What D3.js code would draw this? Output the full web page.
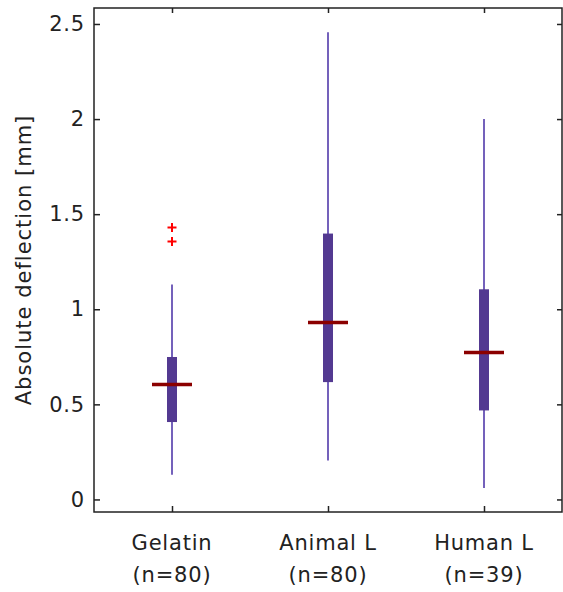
<!DOCTYPE html>
<html>
<head>
<meta charset="utf-8">
<script src="https://cdn.jsdelivr.net/npm/d3@7"></script>
<style>
body { margin: 0; background: #fff; }
text { font-family: "DejaVu Sans", sans-serif; }
</style>
</head>
<body>
<div id="chart"></div>
<script>
const width = 563
const height = 592

// data
const groups = ['Gelatin', 'Animal L', 'Human L']
const counts = ['(n=80)', '(n=80)', '(n=39)']
const whisker_lo = [0.13, 0.205, 0.06]
const q1 = [0.407, 0.617, 0.468]
const medians = [0.605, 0.93, 0.772]
const q3 = [0.749, 1.398, 1.105]
const whisker_hi = [1.13, 2.456, 2.0]
const outlier_group = ['Gelatin', 'Gelatin']
const outlier_vals = [1.43, 1.356]
const y_ticks = [0, 0.5, 1, 1.5, 2, 2.5]

const color_box = '#533991'
const color_whisker = '#7461bb'
const color_median = '#8b0000'

const plot_left = 94, plot_right = 562, plot_top = 8, plot_bottom = 512

document.addEventListener('DOMContentLoaded', function () {
const svg = d3.select('#chart')
    .append('svg')
    .attr('width', width)
    .attr('height', height)

const x = d3.scaleLinear().domain([0.5, 3.5]).range([plot_left, plot_right])
const y = d3.scaleLinear().domain([-0.066, 2.584]).range([plot_bottom, plot_top])
const xpos = g => x(groups.indexOf(g) + 1)

/* whiskers */
svg.selectAll('.whisker')
    .data(groups)
    .enter()
    .append('line')
    .attr('x1', d => xpos(d))
    .attr('x2', d => xpos(d))
    .attr('y1', (_, i) => y(whisker_lo[i]))
    .attr('y2', (_, i) => y(whisker_hi[i]))
    .attr('stroke', color_whisker)
    .attr('stroke-width', 2)

/* boxes */
svg.selectAll('.box')
    .data(groups)
    .enter()
    .append('rect')
    .attr('x', d => xpos(d) - 5)
    .attr('width', 10)
    .attr('y', (_, i) => y(q3[i]))
    .attr('height', (_, i) => y(q1[i]) - y(q3[i]))
    .attr('fill', color_box)

/* medians */
svg.selectAll('.median')
    .data(groups)
    .enter()
    .append('line')
    .attr('x1', d => xpos(d) - 20)
    .attr('x2', d => xpos(d) + 20)
    .attr('y1', (_, i) => y(medians[i]))
    .attr('y2', (_, i) => y(medians[i]))
    .attr('stroke', color_median)
    .attr('stroke-width', 3.5)

/* outliers */
svg.selectAll('.outlier')
    .data(outlier_vals)
    .enter()
    .append('path')
    .attr('d', (d, i) => {
        const cx = xpos(outlier_group[i]), cy = y(d)
        return `M${cx - 4.5},${cy}H${cx + 4.5}M${cx},${cy - 4.5}V${cy + 4.5}`
    })
    .attr('stroke', 'red')
    .attr('stroke-width', 2)
    .attr('fill', 'none')

/* axes */
const yAxis = svg.append('g')
    .attr('transform', `translate(${plot_left},0)`)
    .call(d3.axisLeft(y).tickValues(y_ticks).tickSize(-6).tickPadding(9).tickFormat(d => String(d)))
yAxis.select('.domain').remove()
yAxis.selectAll('text')
    .attr('font-size', 21)
    .attr('letter-spacing', 0.8)
    .attr('fill', '#222')
    .attr('font-family', 'DejaVu Sans')
yAxis.selectAll('line').attr('stroke', '#222').attr('stroke-width', 1.5)

const yRight = svg.append('g')
    .attr('transform', `translate(${plot_right},0)`)
    .call(d3.axisRight(y).tickValues(y_ticks).tickSize(-5).tickFormat(''))
yRight.select('.domain').remove()
yRight.selectAll('line').attr('stroke', '#222').attr('stroke-width', 1.5)

const xAxis = svg.append('g')
    .attr('transform', `translate(0,${plot_bottom})`)
    .call(d3.axisBottom(x).tickValues([1, 2, 3]).tickSize(-6).tickFormat(''))
xAxis.select('.domain').remove()
xAxis.selectAll('line').attr('stroke', '#222').attr('stroke-width', 1.5)

const xTop = svg.append('g')
    .attr('transform', `translate(0,${plot_top})`)
    .call(d3.axisTop(x).tickValues([1, 2, 3]).tickSize(-5).tickFormat(''))
xTop.select('.domain').remove()
xTop.selectAll('line').attr('stroke', '#222').attr('stroke-width', 1.5)

/* frame */
svg.append('rect')
    .attr('x', plot_left)
    .attr('y', plot_top)
    .attr('width', plot_right - plot_left)
    .attr('height', plot_bottom - plot_top)
    .attr('fill', 'none')
    .attr('stroke', '#222')
    .attr('stroke-width', 1.5)

/* category labels, two lines */
const labels = svg.selectAll('.cat')
    .data(groups)
    .enter()
    .append('text')
    .attr('x', d => xpos(d))
    .attr('text-anchor', 'middle')
    .attr('font-size', 21)
    .attr('letter-spacing', 0.8)
    .attr('fill', '#222')
labels.append('tspan')
    .attr('x', d => xpos(d))
    .attr('y', 550)
    .text(d => d)
labels.append('tspan')
    .attr('x', d => xpos(d))
    .attr('y', 582)
    .text((_, i) => counts[i])

/* y label */
svg.append('text')
    .attr('transform', `translate(31,${(plot_top + plot_bottom) / 2}) rotate(-90)`)
    .attr('text-anchor', 'middle')
    .attr('font-size', 21)
    .attr('letter-spacing', 1)
    .attr('fill', '#222')
    .text('Absolute deflection [mm]')
}, { once: true });
</script>
</body>
</html>
